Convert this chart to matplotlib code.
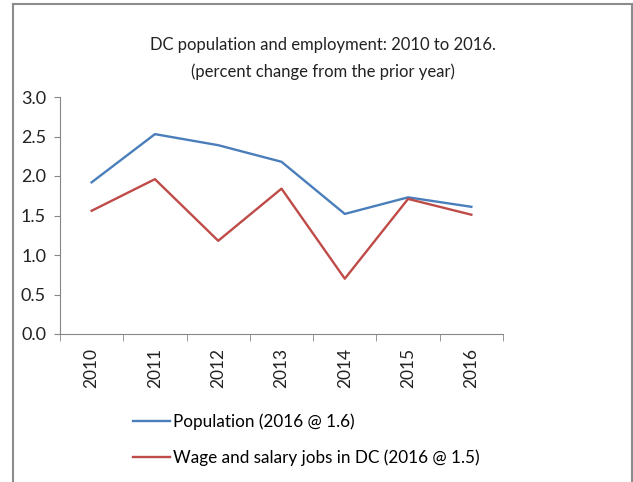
import matplotlib
matplotlib.use("Agg")
import matplotlib.pyplot as plt
from matplotlib.lines import Line2D

years = ["2010", "2011", "2012", "2013", "2014", "2015", "2016"]
population = [1.92, 2.53, 2.39, 2.18, 1.52, 1.73, 1.61]
wage_jobs = [1.56, 1.96, 1.18, 1.84, 0.70, 1.71, 1.51]
labels = ["Population (2016 @ 1.6)", "Wage and salary jobs in DC (2016 @ 1.5)"]

plt.rcParams["font.family"] = ["Lato", "DejaVu Sans"]

fig = plt.figure(figsize=(6.33, 4.82), dpi=100)
W, H = 633, 482

ax = fig.add_axes([60 / W, 1 - 334 / H, 443 / W, 237 / H])
x = range(len(years))
l1, = ax.plot(x, population, color="#4A7EBB", lw=1.7)
l2, = ax.plot(x, wage_jobs, color="#BE4B48", lw=1.7)

ax.set_ylim(0, 3.0)
ax.set_yticks([0, 0.5, 1.0, 1.5, 2.0, 2.5, 3.0])
ax.set_yticklabels(["%.1f" % v for v in ax.get_yticks()], fontsize=13, color="#222222")
ax.set_xlim(-0.5, len(years) - 0.5)
ax.set_xticks(x)
ax.set_xticklabels(years, rotation=90, fontsize=12.5, color="#222222")
ax.tick_params(axis="x", length=0, pad=10)
ax.set_xticks([i - 0.5 for i in range(len(years) + 1)], minor=True)
ax.tick_params(axis="x", which="minor", length=5, color="#868686")
ax.tick_params(axis="y", length=4, color="#868686", pad=6)
for side in ["top", "right"]:
    ax.spines[side].set_visible(False)
for side in ["left", "bottom"]:
    ax.spines[side].set_color("#868686")

fig.text(323 / W, 1 - 45 / H, "DC population and employment: 2010 to 2016.",
         ha="center", va="center", fontsize=12, color="#222222")
fig.text(323 / W, 1 - 72 / H, "(percent change from the prior year)",
         ha="center", va="center", fontsize=12, color="#222222")

fig.legend([l1, l2], labels, loc="upper left", bbox_to_anchor=(126 / W, 1 - 407 / H),
           frameon=False, fontsize=12.3, handlelength=2.2, handletextpad=0.15,
           labelspacing=1.1, borderaxespad=0)

# outer frame
border = dict(color="#8c8c8c", lw=1.5, transform=fig.transFigure)
fig.add_artist(Line2D([13 / W, 13 / W], [0, 1 - 4 / H], **border))
fig.add_artist(Line2D([13 / W, 632 / W], [1 - 4 / H, 1 - 4 / H], **border))
fig.add_artist(Line2D([632 / W, 632 / W], [0, 1 - 4 / H], **border))

fig.savefig("out.png", dpi=100)
